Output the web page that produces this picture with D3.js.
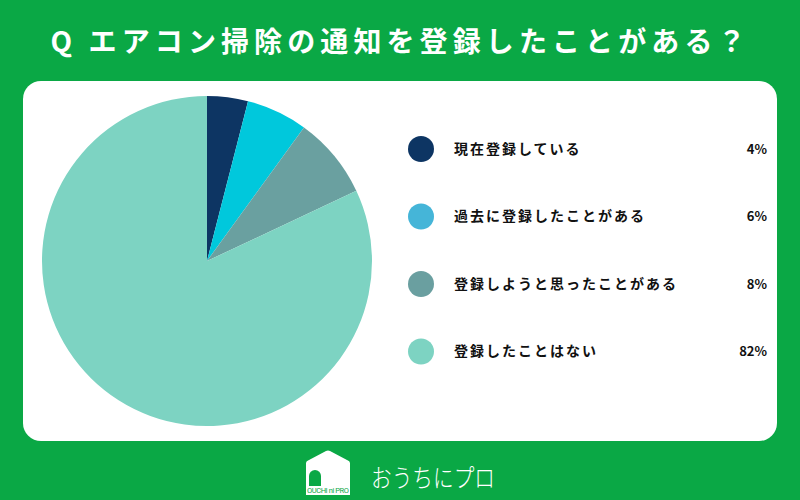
<!DOCTYPE html>
<html>
<head>
<meta charset="utf-8">
<script src="https://cdn.jsdelivr.net/npm/d3@7"></script>
<style>
  body { margin: 0; background: #0aa845; }
  svg { display: block; font-family: "Noto Sans CJK JP", "Noto Sans", sans-serif; }
</style>
</head>
<body>
<svg id="chart" width="800" height="500"></svg>
<script>
// data
var title = "Q エアコン掃除の通知を登録したことがある？";
var categories = ["現在登録している", "過去に登録したことがある", "登録しようと思ったことがある", "登録したことはない"];
var values = [4, 6, 8, 82];
var pieColors = ["#0d3563", "#00c8dc", "#6aa0a0", "#7dd3c2"];
var legendColors = ["#0d3563", "#45b5d8", "#6a9fa0", "#7dd3c2"];
var brand = "おうちにプロ";

var svg = d3.select("#chart"),
    cs = {
        panel: { x: 23, y: 81, w: 754, h: 360, r: 18 },
        pie: { cx: 207, cy: 261, r: 165 },
        legend: { dotX: 421, labelX: 454, valueX: 767, top: 149, step: 67.5, dotR: 13 }
    };

svg.append("rect")
    .attr("width", 800).attr("height", 500)
    .attr("fill", "#0aa845");

svg.append("text")
    .attr("x", 398).attr("y", 52)
    .attr("text-anchor", "middle")
    .attr("fill", "#fff")
    .attr("font-size", 28)
    .attr("font-weight", 700)
    .attr("textLength", 695)
    .attr("lengthAdjust", "spacing")
    .text(title);

svg.append("rect")
    .attr("x", cs.panel.x).attr("y", cs.panel.y)
    .attr("width", cs.panel.w).attr("height", cs.panel.h)
    .attr("rx", cs.panel.r)
    .attr("fill", "#fff");

// pie
var pie = d3.pie().sort(null).value(d => d);
var arc = d3.arc().innerRadius(0).outerRadius(cs.pie.r);
var color = d3.scaleOrdinal().domain(categories).range(pieColors);

svg.append("g")
    .attr("transform", "translate(" + cs.pie.cx + "," + cs.pie.cy + ")")
    .selectAll("path")
    .data(pie(values))
    .enter().append("path")
    .attr("d", arc)
    .attr("fill", (d, i) => color(categories[i]));

// legend
var y = d3.scalePoint()
    .domain(categories)
    .range([cs.legend.top, cs.legend.top + cs.legend.step * (categories.length - 1)]);
var legendColor = d3.scaleOrdinal().domain(categories).range(legendColors);

var rows = svg.append("g").selectAll("g")
    .data(categories)
    .enter().append("g")
    .attr("transform", d => "translate(0," + y(d) + ")");

rows.append("circle")
    .attr("cx", cs.legend.dotX)
    .attr("r", cs.legend.dotR)
    .attr("fill", d => legendColor(d));

rows.append("text")
    .attr("x", cs.legend.labelX)
    .attr("dy", "0.35em")
    .attr("font-size", 14)
    .attr("font-weight", 700)
    .attr("letter-spacing", 2)
    .attr("fill", "#111")
    .text(d => d);

rows.append("text")
    .attr("x", cs.legend.valueX)
    .attr("dy", "0.35em")
    .attr("text-anchor", "end")
    .attr("font-size", 13)
    .attr("font-weight", 700)
    .attr("fill", "#111")
    .text((d, i) => values[i] + "%");

// logo
var logo = svg.append("g").attr("transform", "translate(306,450)");
logo.append("path")
    .attr("d", "M0,13 Q0,11 3,10 L20,1 Q22,0 24,1 L41,10 Q44,11 44,13 L44,45 L0,45 Z")
    .attr("fill", "#fff");
logo.append("path")
    .attr("d", "M3,36 L3,26 A6,6 0 0 1 15,26 L15,36 Z")
    .attr("fill", "#0aa845");
logo.append("text")
    .attr("x", 22).attr("y", 43)
    .attr("text-anchor", "middle")
    .attr("font-size", 7.5)
    .attr("font-family", "Liberation Sans Narrow, Roboto, sans-serif")
    .attr("textLength", 42)
    .attr("fill", "#0aa845")
    .text("OUCHI ni PRO");

svg.append("text")
    .attr("x", 371).attr("y", 487)
    .attr("fill", "#fff")
    .attr("font-size", 25)
    .attr("font-weight", 300)
    .attr("textLength", 124)
    .attr("lengthAdjust", "spacingAndGlyphs")
    .text(brand);
</script>
</body>
</html>
